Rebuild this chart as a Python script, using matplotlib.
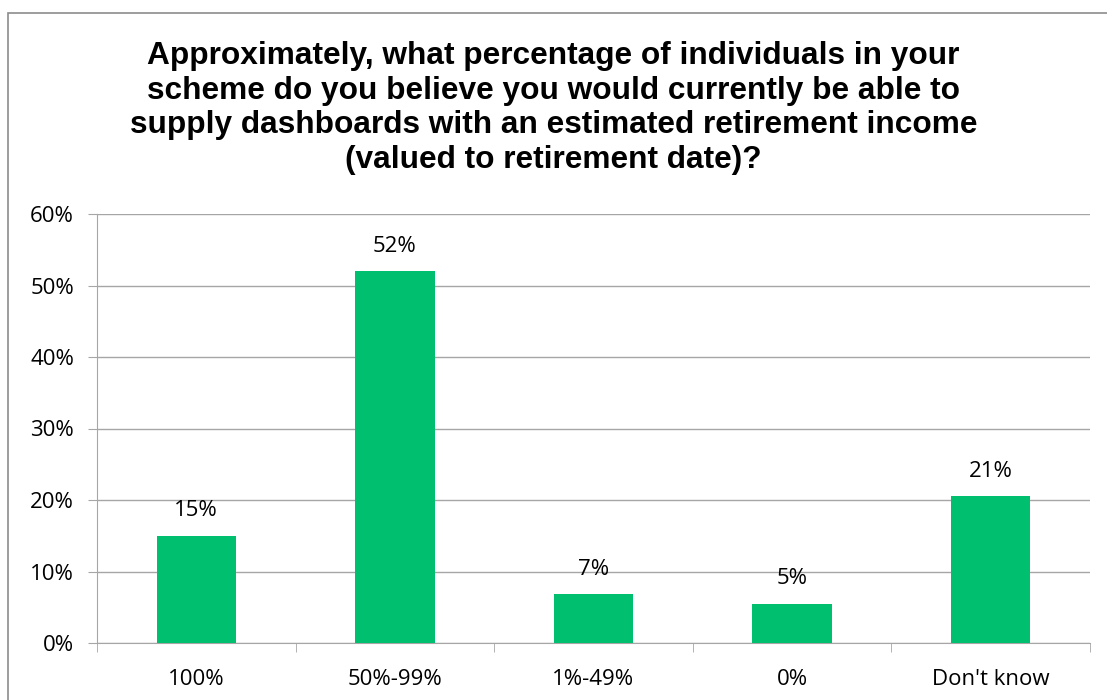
import matplotlib
matplotlib.use("Agg")
import matplotlib.pyplot as plt
from matplotlib.patches import Rectangle
from matplotlib.ticker import PercentFormatter

categories = ["100%", "50%-99%", "1%-49%", "0%", "Don't know"]
values = [0.15, 0.52, 0.068, 0.055, 0.205]
labels = ["15%", "52%", "7%", "5%", "21%"]
title = ("Approximately, what percentage of individuals in your\n"
         "scheme do you believe you would currently be able to\n"
         "supply dashboards with an estimated retirement income\n"
         "(valued to retirement date)?")

bar_color = "#00BF6F"
grid_color = "#A6A6A6"
font = "Open Sans"

fig = plt.figure(figsize=(11.07, 7), dpi=100)
# chart border (right and bottom edges fall outside the picture)
fig.patches.append(Rectangle((8/1107, -0.01), 1.0, 1 - 13/700 + 0.01, transform=fig.transFigure,
                             fill=False, edgecolor="#8C8C8C", linewidth=1.2))

ax = fig.add_axes([97/1107, 1 - 643/700, (1090 - 97)/1107, (643 - 214)/700])
x = range(len(categories))
ax.bar(x, values, width=0.4, color=bar_color, zorder=3)
for xi, v, lab in zip(x, values, labels):
    ax.text(xi, v + 0.02, lab, ha="center", va="bottom", fontsize=16, family=font)

ax.set_xlim(-0.5, len(categories) - 0.5)
ax.set_ylim(0, 0.6)
ax.set_yticks([i / 10 for i in range(7)])
ax.yaxis.set_major_formatter(PercentFormatter(1.0, decimals=0))
ax.yaxis.grid(True, color=grid_color, linewidth=1, zorder=0)
ax.set_xticks(x)
ax.set_xticklabels(categories)
ax.set_xticks([i - 0.5 for i in range(len(categories) + 1)], minor=True)
ax.tick_params(axis="x", which="major", length=0, pad=19, labelsize=16)
ax.tick_params(axis="x", which="minor", length=6.5, color=grid_color)
ax.tick_params(axis="y", length=6.5, color=grid_color, labelsize=16, pad=10)
for lab in ax.get_xticklabels() + ax.get_yticklabels():
    lab.set_family(font)
for s in ["top", "right"]:
    ax.spines[s].set_visible(False)
ax.spines["left"].set_color(grid_color)
ax.spines["bottom"].set_color(grid_color)

fig.text(0.5, 1 - 108/700, title, ha="center", va="center", fontsize=22.8, fontweight="bold",
         family="Liberation Sans", linespacing=1.2)

fig.savefig("out.png", dpi=100)
